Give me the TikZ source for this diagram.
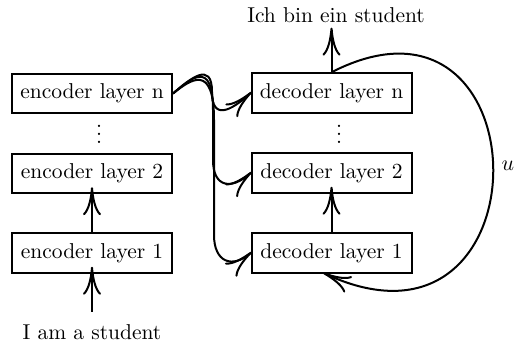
\documentclass[tikz,border=0pt]{standalone}
\usetikzlibrary{arrows.meta}
\begin{document}
\begin{tikzpicture}[x=0.5pt,y=-0.5pt,
  every node/.style={font=\fontsize{10.75}{13}\selectfont},
  layer/.style={draw, line width=1pt, minimum width=80pt, minimum height=19.75pt, inner sep=0pt},
  words/.style={anchor=base, inner sep=0pt},
  arr/.style={line width=1pt, -{To[length=14pt,width=9pt]}},
  deep/.style={shorten >=-3.5pt},
  near/.style={shorten >=-0.75pt}]
\useasboundingbox (0,0) rectangle (517,343);

% encoder stack
\node[layer] (e1) at (92,253) {encoder layer 1};
\node[layer] (e2) at (92,173.5) {encoder layer 2};
\node[layer] (en) at (92,93.5) {encoder layer n};
\node[words] (edots) at (99,143) {$\vdots$};

% decoder stack
\node[layer] (d1) at (331.5,253) {decoder layer 1};
\node[layer] (d2) at (331.5,173) {decoder layer 2};
\node[layer] (dn) at (331.5,93) {decoder layer n};
\node[words] (ddots) at (339,143) {$\vdots$};

% input / output sentences and the feedback label
\node[words] (src) at (92,339) {I am a student};
\node[words] (tgt) at (336,22) {Ich bin ein student};
\node[words] (ulab) at (508,170) {$u$};

% vertical flow
\draw[arr,deep,shorten <=6pt] (src.north) -- (e1.south);
\draw[arr,deep] (e1.north) -- (e2.south);
\draw[arr,deep] (d1.north) -- (d2.south);
\draw[arr,shorten >=2.5pt] (dn.north) -- (dn.north |- tgt.south);

% top encoder layer feeds every decoder layer
\draw[arr,near] (en.east) .. controls (190,79) and (212,60) .. (212,92)
  .. controls (212,120) and (230,112) .. (dn.west);
\draw[arr,near] (en.east) .. controls (190,79) and (213,58) .. (213,110)
  -- (213,160) .. controls (213,188) and (232,190) .. (d2.west);
\draw[arr,near] (en.east) .. controls (190,80) and (214,62) .. (214,120)
  -- (214,235) .. controls (214,262) and (232,269) .. (d1.west);

% feedback loop from the decoder output back to the first decoder layer
\draw[arr,shorten >=-1pt] (dn.north) .. controls +(215,-110) and +(225,105)
  .. ([xshift=-3.25pt]d1.south);
\end{tikzpicture}
\end{document}
